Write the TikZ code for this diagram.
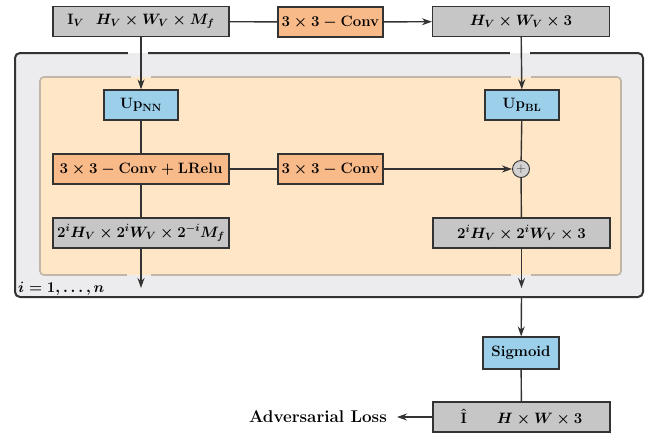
\RequirePackage{fix-cm}
\documentclass[tikz,border=0pt]{standalone}
\usepackage{fontspec}
\usepackage{amsmath}
\usetikzlibrary{arrows.meta}
\definecolor{boxgray}{HTML}{C6C6C6}
\definecolor{orng}{HTML}{F9BA8A}
\definecolor{blu}{HTML}{9CCFEA}
\definecolor{outerfill}{HTML}{ECECEE}
\definecolor{innerfill}{HTML}{FEE6C6}
\definecolor{innerline}{HTML}{BFB6A8}
\definecolor{edge}{HTML}{333333}
\begin{document}
\begin{tikzpicture}[x=1pt,y=-1pt,
  every node/.style={font=\fontsize{15}{17}\selectfont\bfseries\boldmath, text=black},
  box/.style={draw=edge, line width=1.2pt, minimum height=30pt, inner sep=0pt, anchor=center},
  graybox/.style={box, fill=boxgray},
  orbox/.style={box, fill=orng},
  bluebox/.style={box, fill=blu},
  conn/.style={draw=edge, line width=1.4pt},
  arr/.style={conn, -{Stealth[length=10pt,width=7pt]}}]
\useasboundingbox (0,0) rectangle (650,434);
% frames
\draw[fill=outerfill, draw=edge, line width=2pt, rounded corners=5pt] (15,53) rectangle (643,297);
\draw[fill=innerfill, draw=innerline, line width=1.6pt, rounded corners=4pt] (40,77) rectangle (621,275);
% gaps in frames
\fill[white] (128,49.5) rectangle (148,53);
\fill[outerfill] (128,53) rectangle (148,56.5);
\fill[white] (510,49.5) rectangle (530,53);
\fill[outerfill] (510,53) rectangle (530,56.5);
\fill[outerfill] (131,74) rectangle (151,77);
\fill[innerfill] (131,77) rectangle (151,80);
\fill[outerfill] (511,74) rectangle (531,77);
\fill[innerfill] (511,77) rectangle (531,80);
\fill[innerfill] (127,272) rectangle (151,275);
\fill[outerfill] (127,275) rectangle (151,278);
\fill[innerfill] (511,272) rectangle (531,275);
\fill[outerfill] (511,275) rectangle (531,278);
% nodes
\node[graybox, minimum width=176pt] (topL) at (141,21.5) {$\mathbf{I}_V$\hspace{12pt}$H_V\times W_V\times M_f$};
\node[orbox, minimum width=105pt] (conv1) at (330.5,22) {$3\times3-\mathbf{Conv}$};
\node[graybox, minimum width=177pt] (topR) at (521,21.5) {$H_V\times W_V\times 3$};
\node[bluebox, minimum width=74pt] (upNN) at (141,105) {$\mathbf{Up}_{\mathbf{NN}}$};
\node[bluebox, minimum width=74pt] (upBL) at (522,105) {$\mathbf{Up}_{\mathbf{BL}}$};
\node[orbox, minimum width=176pt] (cl) at (141,169) {$3\times3-\mathbf{Conv}+\mathbf{LRelu}$};
\node[orbox, minimum width=105pt] (conv2) at (330.5,169) {$3\times3-\mathbf{Conv}$};
\node[circle, draw=edge, line width=0.9pt, fill=boxgray!80, minimum size=17pt, inner sep=0pt, font=\fontsize{13}{13}\selectfont, text=edge] (plus) at (521,169) {$+$};
\node[graybox, minimum width=176pt] (gL) at (141,233) {$2^iH_V\times 2^iW_V\times 2^{-i}M_f$};
\node[graybox, minimum width=177pt] (gR) at (521.5,233) {$2^iH_V\times 2^iW_V\times 3$};
\node[bluebox, minimum width=76pt, minimum height=32pt] (sig) at (521,353) {Sigmoid};
\node[graybox, minimum width=177pt] (out) at (521.5,417) {$\hat{\mathbf{I}}$\hspace{30pt}$H\times W\times 3$};
\node[anchor=east, inner xsep=10pt, font=\fontsize{17}{19}\selectfont\bfseries] (adv) at (397,417) {Adversarial Loss};
\node[anchor=west, inner sep=0pt] (ilab) at (18,289) {$i=1,\ldots,n$};
\coordinate (endL) at (141,288);
\coordinate (endR) at (521.5,288);
\coordinate (ob) at (521.5,297);
% connectors
\draw[conn] (topL) -- (conv1);
\draw[arr] (conv1) -- (topR);
\draw[arr] (topL) -- (upNN);
\draw[arr] (topR) -- (upBL);
\draw[conn] (upNN) -- (cl);
\draw[conn] (cl) -- (conv2);
\draw[arr] (conv2) -- (plus);
\draw[conn] (upBL) -- (plus);
\draw[conn] (plus) -- (gR);
\draw[conn] (cl) -- (gL);
\draw[arr] (gL) -- (endL);
\draw[arr] (gR) -- (endR);
\draw[arr] (ob) -- (sig);
\draw[conn] (sig) -- (out);
\draw[arr] (out) -- (adv);
\end{tikzpicture}
\end{document}
